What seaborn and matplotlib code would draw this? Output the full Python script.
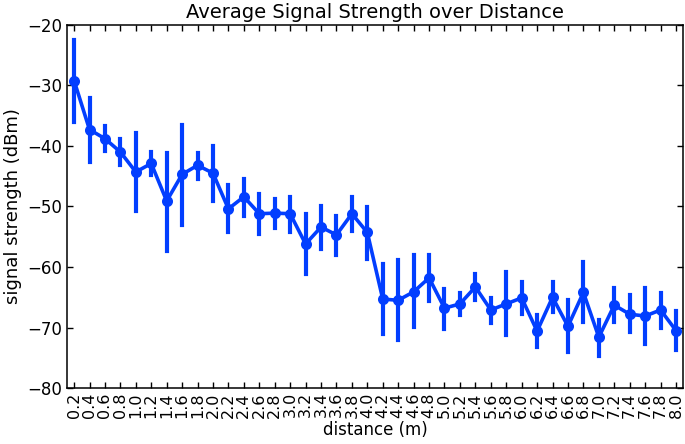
import numpy as np
import pandas as pd
import matplotlib
matplotlib.use("Agg")
import matplotlib.pyplot as plt
import seaborn as sns

# distance categories (m)
distances = ["0.2", "0.4", "0.6", "0.8", "1.0", "1.2", "1.4", "1.6", "1.8", "2.0",
             "2.2", "2.4", "2.6", "2.8", "3.0", "3.2", "3.4", "3.6", "3.8", "4.0",
             "4.2", "4.4", "4.6", "4.8", "5.0", "5.2", "5.4", "5.6", "5.8", "6.0",
             "6.2", "6.4", "6.6", "6.8", "7.0", "7.2", "7.4", "7.6", "7.8", "8.0"]

# mean signal strength (dBm)
mean_dbm = [-29.2, -37.3, -38.8, -41.0, -44.3, -42.9, -49.1, -44.7, -43.2, -44.5,
            -50.4, -48.4, -51.2, -51.1, -51.2, -56.2, -53.4, -54.7, -51.2, -54.3,
            -65.3, -65.5, -64.1, -61.8, -66.8, -66.1, -63.3, -67.1, -66.1, -65.1,
            -70.6, -65.0, -69.8, -64.2, -71.6, -66.3, -67.8, -68.1, -67.1, -70.5]

# error bar bounds (dBm)
low_dbm = [-36.0, -42.6, -40.9, -43.1, -50.8, -44.8, -57.3, -53.0, -45.4, -49.1,
           -54.3, -51.5, -54.5, -53.5, -54.2, -61.2, -57.0, -58.1, -54.0, -58.6,
           -71.0, -72.0, -69.9, -65.6, -70.3, -67.9, -65.4, -69.3, -71.2, -67.8,
           -73.2, -67.5, -74.0, -69.1, -74.7, -69.1, -70.8, -72.8, -70.1, -73.7]
high_dbm = [-22.5, -32.0, -36.7, -38.9, -37.9, -41.0, -41.1, -36.5, -41.1, -40.0,
            -46.4, -45.4, -47.9, -48.7, -48.4, -51.2, -49.9, -51.5, -48.5, -50.1,
            -59.5, -58.9, -58.1, -58.1, -63.7, -64.3, -61.1, -65.1, -60.8, -62.4,
            -67.9, -62.5, -65.4, -59.1, -68.8, -63.5, -64.7, -63.4, -64.3, -67.3]

rows = []
for d, lo, m, hi in zip(distances, low_dbm, mean_dbm, high_dbm):
    for v in (lo, m, hi):
        rows.append({"distance": d, "signal": v})
df = pd.DataFrame(rows)

plt.rcdefaults()
plt.rcParams["font.family"] = ["DejaVu Sans"]
plt.rcParams["xtick.direction"] = "in"
plt.rcParams["ytick.direction"] = "in"
plt.rcParams["xtick.top"] = True
plt.rcParams["ytick.right"] = True

fig, ax = plt.subplots(figsize=(6.85, 4.44), dpi=100)
fig.subplots_adjust(left=0.098, right=0.997, top=0.944, bottom=0.126)

sns.pointplot(data=df, x="distance", y="signal", order=distances,
              estimator="median", errorbar=lambda v: (v.min(), v.max()),
              color="#023eff", markersize=6, linewidth=2.6,
              err_kws={"linewidth": 3.0}, ax=ax)

ax.set_xlim(-0.45, len(distances) - 0.55)
ax.set_ylim(-80, -20)
ax.set_yticks(np.arange(-80, -19, 10))
ax.tick_params(axis="x", labelrotation=90, labelsize=11.5, length=4.5, width=1, pad=3)
ax.tick_params(axis="y", labelsize=12, length=4.5, width=1)
for s in ax.spines.values():
    s.set_linewidth(1.1)
    s.set_color("black")

ax.set_title("Average Signal Strength over Distance", fontsize=14, pad=5)
ax.set_xlabel("distance (m)", fontsize=12, labelpad=2)
ax.set_ylabel("signal strength (dBm)", fontsize=13)

fig.savefig("out.png")
